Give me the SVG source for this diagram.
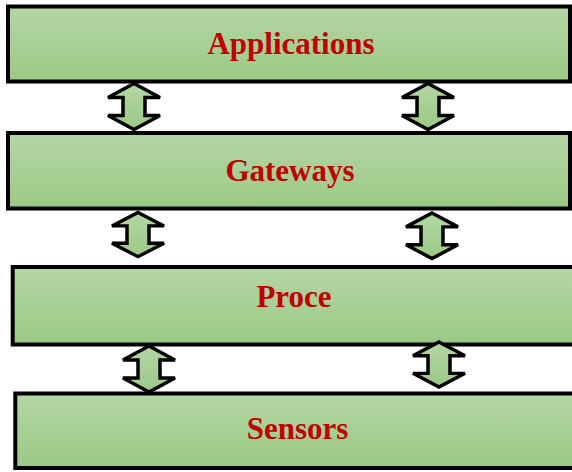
<svg xmlns="http://www.w3.org/2000/svg" width="572" height="472" viewBox="0 0 572 472">
  <defs>
    <linearGradient id="g" x1="0" y1="0" x2="0" y2="1">
      <stop offset="0" stop-color="#b4d6a5"/>
      <stop offset="1" stop-color="#9cc986"/>
    </linearGradient>
    <path id="arr" d="M0,0 L26,14 L11,14 L11,32 L26,32 L0,46 L-26,32 L-11,32 L-11,14 L-26,14 Z"/>
  </defs>
  <style>
    .box { fill: url(#g); stroke: #000; stroke-width: 4; }
    .lbl { font-family: "Liberation Serif", "DejaVu Serif", serif; font-weight: bold; font-size: 31px; fill: #c00000; text-anchor: middle; }
    .arrow { fill: url(#g); stroke: #000; stroke-width: 3.5; stroke-linejoin: miter; }
  </style>
  <rect width="572" height="472" fill="#ffffff"/>
  <g id="applications">
    <rect class="box" x="8" y="6.5" width="562" height="75"/>
    <text class="lbl" x="291" y="54">Applications</text>
  </g>
  <g id="gateways">
    <rect class="box" x="8" y="133" width="562" height="75.5"/>
    <text class="lbl" x="290" y="181">Gateways</text>
  </g>
  <g id="proce">
    <rect class="box" x="12.7" y="267" width="580" height="77.5"/>
    <text class="lbl" x="294" y="307">Proce</text>
  </g>
  <g id="sensors">
    <rect class="box" x="15.3" y="393.5" width="580" height="74.5"/>
    <text class="lbl" x="297.5" y="439">Sensors</text>
  </g>
  <g id="connectors">
    <use href="#arr" class="arrow" transform="translate(134,83.5)"/>
    <use href="#arr" class="arrow" transform="translate(428,83.5)"/>
    <use href="#arr" class="arrow" transform="translate(138,212.5) scale(1,0.96)"/>
    <use href="#arr" class="arrow" transform="translate(432,213) scale(1,0.99)"/>
    <use href="#arr" class="arrow" transform="translate(149,346)"/>
    <use href="#arr" class="arrow" transform="translate(439,342) scale(1,0.98)"/>
  </g>
</svg>
